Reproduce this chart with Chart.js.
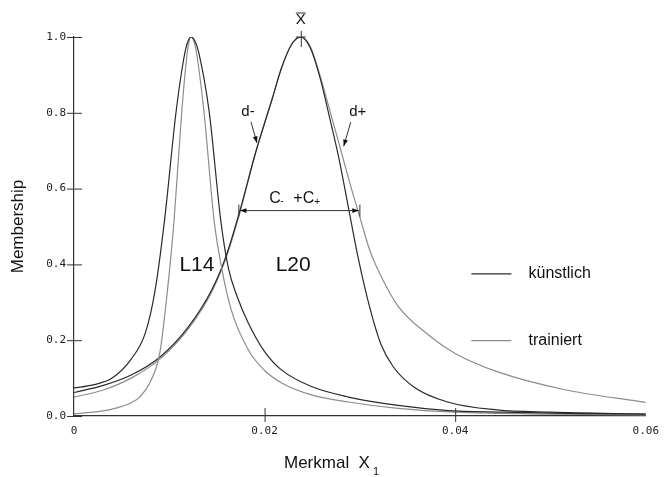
<!DOCTYPE html>
<html>
<head>
<meta charset="utf-8">
<script src="https://cdn.jsdelivr.net/npm/chart.js@4"></script>
<style>
  html, body { margin: 0; padding: 0; background: #fff; }
  #wrap { width: 668px; height: 477px; }
</style>
</head>
<body>
<div id="wrap"><canvas id="c" width="668" height="477"></canvas></div>
<script>
// L14 curves (left peak)
const l14kX = [0, 0.002, 0.004, 0.006, 0.0075, 0.0085, 0.0095, 0.0107, 0.0115, 0.0119, 0.0123, 0.0127, 0.0131, 0.0142, 0.0154, 0.0162, 0.0172, 0.0183, 0.02, 0.0218, 0.025, 0.0288, 0.034, 0.039, 0.045, 0.052, 0.06];
const l14kY = [0.074, 0.082, 0.1, 0.15, 0.22, 0.33, 0.516, 0.8, 0.94, 0.985, 1.0, 0.989, 0.958, 0.8, 0.516, 0.39, 0.31, 0.245, 0.17, 0.121, 0.077, 0.05, 0.028, 0.015, 0.01, 0.007, 0.005];
const l14tX = [0, 0.002, 0.004, 0.006, 0.0069, 0.008, 0.009, 0.0098, 0.0105, 0.0113, 0.0118, 0.01205, 0.0123, 0.01255, 0.0128, 0.01365, 0.0147, 0.0155, 0.0165, 0.0183, 0.02, 0.0218, 0.025, 0.0288, 0.034, 0.04, 0.05, 0.06];
const l14tY = [0.006, 0.01, 0.018, 0.035, 0.05, 0.09, 0.166, 0.33, 0.516, 0.8, 0.94, 0.985, 1.0, 0.991, 0.967, 0.8, 0.516, 0.39, 0.28, 0.174, 0.12, 0.087, 0.055, 0.037, 0.02, 0.01, 0.005, 0.003];

// L20 curves (right peak)
const l20kX = [0, 0.003, 0.006, 0.009, 0.012, 0.0145, 0.016, 0.0175, 0.019, 0.0208, 0.0218, 0.0228, 0.0238, 0.0248, 0.0258, 0.0268, 0.0278, 0.0288, 0.0298, 0.031, 0.0322, 0.0335, 0.0357, 0.0392, 0.0444, 0.05, 0.06];
const l20kY = [0.062, 0.08, 0.108, 0.155, 0.235, 0.335, 0.425, 0.55, 0.69, 0.837, 0.92, 0.979, 1.0, 0.971, 0.894, 0.79, 0.68, 0.55, 0.42, 0.29, 0.19, 0.13, 0.076, 0.037, 0.016, 0.01, 0.005];
const l20tX = [0, 0.003, 0.006, 0.009, 0.012, 0.0145, 0.016, 0.0175, 0.019, 0.0208, 0.0218, 0.0228, 0.0238, 0.0248, 0.0258, 0.0268, 0.0278, 0.029, 0.0301, 0.031, 0.0322, 0.034, 0.0374, 0.04, 0.0444, 0.0514, 0.06];
const l20tY = [0.05, 0.068, 0.1, 0.15, 0.23, 0.33, 0.42, 0.545, 0.69, 0.837, 0.92, 0.979, 1.0, 0.975, 0.90, 0.81, 0.72, 0.61, 0.516, 0.44, 0.37, 0.29, 0.21, 0.165, 0.117, 0.07, 0.036];

const xTicks = [0, 0.02, 0.04, 0.06];
const xTickLabels = ['0', '0.02', '0.04', '0.06'];
const yTicks = [0, 0.2, 0.4, 0.6, 0.8, 1.0];
const yTickLabels = ['0.0', '0.2', '0.4', '0.6', '0.8', '1.0'];

const legendNames = ['künstlich', 'trainiert'];
const colK = '#2a2a2a';
const colT = '#8c8c8c';

// annotation anchors in data units
const peakX = 0.0238;
const cArrow = { y: 0.542, x1: 0.0173, x2: 0.0300 };
const dMinus = { x: 0.0192, y: 0.718 };
const dPlus = { x: 0.0282, y: 0.712 };

function pts(xs, ys) { return xs.map((x, i) => ({ x: x, y: ys[i] })); }

function lineDs(label, xs, ys, color) {
  return {
    label: label,
    data: pts(xs, ys),
    borderColor: color,
    borderWidth: 1.2,
    pointRadius: 0,
    fill: false,
    cubicInterpolationMode: 'monotone'
  };
}

const decor = {
  id: 'decor',
  afterDraw(chart) {
    const ctx = chart.ctx;
    const xs = chart.scales.x, ys = chart.scales.y;
    const px = v => xs.getPixelForValue(v);
    const py = v => ys.getPixelForValue(v);
    ctx.save();
    ctx.strokeStyle = '#333';
    ctx.fillStyle = '#111';
    ctx.lineWidth = 1;

    // axis crosses
    ctx.beginPath();
    yTicks.forEach(t => { ctx.moveTo(px(0) - 7, py(t) + 0.5); ctx.lineTo(px(0) + 8, py(t) + 0.5); });
    [0.02, 0.04].forEach(t => { ctx.moveTo(px(t) + 0.5, py(0) - 8); ctx.lineTo(px(t) + 0.5, py(0) + 6); });
    ctx.stroke();

    // peak marker and X-bar
    ctx.beginPath();
    ctx.moveTo(px(peakX) + 0.5, py(1) - 6); ctx.lineTo(px(peakX) + 0.5, py(1) + 10);
    ctx.moveTo(px(peakX) - 5, py(1)); ctx.lineTo(px(peakX) + 5, py(1));
    ctx.stroke();
    ctx.font = '15px "Liberation Sans", Arial, sans-serif';
    ctx.textAlign = 'center';
    ctx.textBaseline = 'middle';
    ctx.fillText('X', px(peakX), py(1) - 17);
    ctx.beginPath();
    ctx.moveTo(px(peakX) - 5, py(1) - 24); ctx.lineTo(px(peakX) + 5, py(1) - 24);
    ctx.stroke();

    // d- and d+ with arrows
    ctx.font = '15px "Liberation Sans", Arial, sans-serif';
    ctx.fillText('d-', px(dMinus.x) - 9, py(dMinus.y) - 32);
    ctx.fillText('d+', px(dPlus.x) + 15, py(dPlus.y) - 34);
    function arrow(x0, y0, x1, y1) {
      ctx.beginPath(); ctx.moveTo(x0, y0); ctx.lineTo(x1, y1); ctx.stroke();
      const a = Math.atan2(y1 - y0, x1 - x0);
      ctx.beginPath();
      ctx.moveTo(x1, y1);
      ctx.lineTo(x1 - 7 * Math.cos(a - 0.35), y1 - 7 * Math.sin(a - 0.35));
      ctx.lineTo(x1 - 7 * Math.cos(a + 0.35), y1 - 7 * Math.sin(a + 0.35));
      ctx.closePath(); ctx.fill();
    }
    arrow(px(dMinus.x) - 6, py(dMinus.y) - 22, px(dMinus.x), py(dMinus.y) - 1);
    arrow(px(dPlus.x) + 8, py(dPlus.y) - 24, px(dPlus.x) + 1, py(dPlus.y));

    // C- + C+ double arrow
    const cy = py(cArrow.y), cx1 = px(cArrow.x1), cx2 = px(cArrow.x2);
    arrow((cx1 + cx2) / 2, cy, cx1 + 1, cy);
    arrow((cx1 + cx2) / 2, cy, cx2 - 1, cy);
    ctx.beginPath();
    ctx.moveTo(cx1, cy - 6); ctx.lineTo(cx1, cy + 6);
    ctx.moveTo(cx2, cy - 6); ctx.lineTo(cx2, cy + 6);
    ctx.stroke();
    ctx.textAlign = 'left';
    ctx.font = '16px "Liberation Sans", Arial, sans-serif';
    const tx = (cx1 + cx2) / 2 - 30;
    ctx.fillText('C', tx, cy - 12);
    ctx.font = '10px "Liberation Sans", Arial, sans-serif';
    ctx.fillText('-', tx + 11, cy - 9);
    ctx.font = '16px "Liberation Sans", Arial, sans-serif';
    ctx.fillText('+C', tx + 24, cy - 12);
    ctx.font = '10px "Liberation Sans", Arial, sans-serif';
    ctx.fillText('+', tx + 45, cy - 8);

    // curve labels
    ctx.textAlign = 'center';
    ctx.font = '21px "Liberation Sans", Arial, sans-serif';
    ctx.fillText('L14', px(0.0129), py(0.397));
    ctx.fillText('L20', px(0.0230), py(0.397));

    // legend
    ctx.font = '16px "Liberation Sans", Arial, sans-serif';
    ctx.textAlign = 'left';
    [[0.375, colK, legendNames[0]], [0.199, colT, legendNames[1]]].forEach(([yv, c, name]) => {
      ctx.strokeStyle = c;
      ctx.lineWidth = 1.2;
      ctx.beginPath();
      ctx.moveTo(px(0.0417), py(yv)); ctx.lineTo(px(0.0459), py(yv));
      ctx.stroke();
      ctx.fillStyle = '#111';
      ctx.fillText(name, px(0.0477), py(yv));
    });

    // x axis title with subscript
    ctx.font = '17px "Liberation Sans", Arial, sans-serif';
    ctx.fillText('Merkmal  X', 284, 463);
    ctx.font = '11px "Liberation Sans", Arial, sans-serif';
    ctx.fillText('1', 373, 472);
    ctx.restore();
  }
};

new Chart(document.getElementById('c'), {
  type: 'line',
  data: {
    datasets: [
      lineDs('L14 künstlich', l14kX, l14kY, colK),
      lineDs('L14 trainiert', l14tX, l14tY, colT),
      lineDs('L20 künstlich', l20kX, l20kY, colK),
      lineDs('L20 trainiert', l20tX, l20tY, colT)
    ]
  },
  options: {
    responsive: false,
    animation: false,
    layout: { padding: { top: 37, right: 20, left: 0, bottom: 0 } },
    plugins: { legend: { display: false }, tooltip: { enabled: false } },
    scales: {
      x: {
        type: 'linear',
        min: 0, max: 0.06,
        afterFit: s => { s.height = 61; },
        afterBuildTicks: s => { s.ticks = xTicks.map(v => ({ value: v })); },
        grid: { display: false, drawTicks: false },
        border: { color: '#333', width: 1.2 },
        ticks: {
          padding: 9,
          color: '#222',
          font: { family: 'DejaVu Sans Mono', size: 11 },
          callback: (v) => xTickLabels[xTicks.indexOf(v)]
        }
      },
      y: {
        min: 0, max: 1,
        afterFit: s => { s.width = 74; },
        afterBuildTicks: s => { s.ticks = yTicks.map(v => ({ value: v })); },
        grid: { display: false, drawTicks: false },
        border: { color: '#333', width: 1.2 },
        title: {
          display: true,
          text: 'Membership',
          color: '#111',
          padding: { top: 8, bottom: 0 },
          font: { family: 'Liberation Sans', size: 17 }
        },
        ticks: {
          padding: 8,
          color: '#222',
          font: { family: 'DejaVu Sans Mono', size: 11 },
          callback: (v) => yTickLabels[yTicks.indexOf(v)]
        }
      }
    }
  },
  plugins: [decor]
});
</script>
</body>
</html>
